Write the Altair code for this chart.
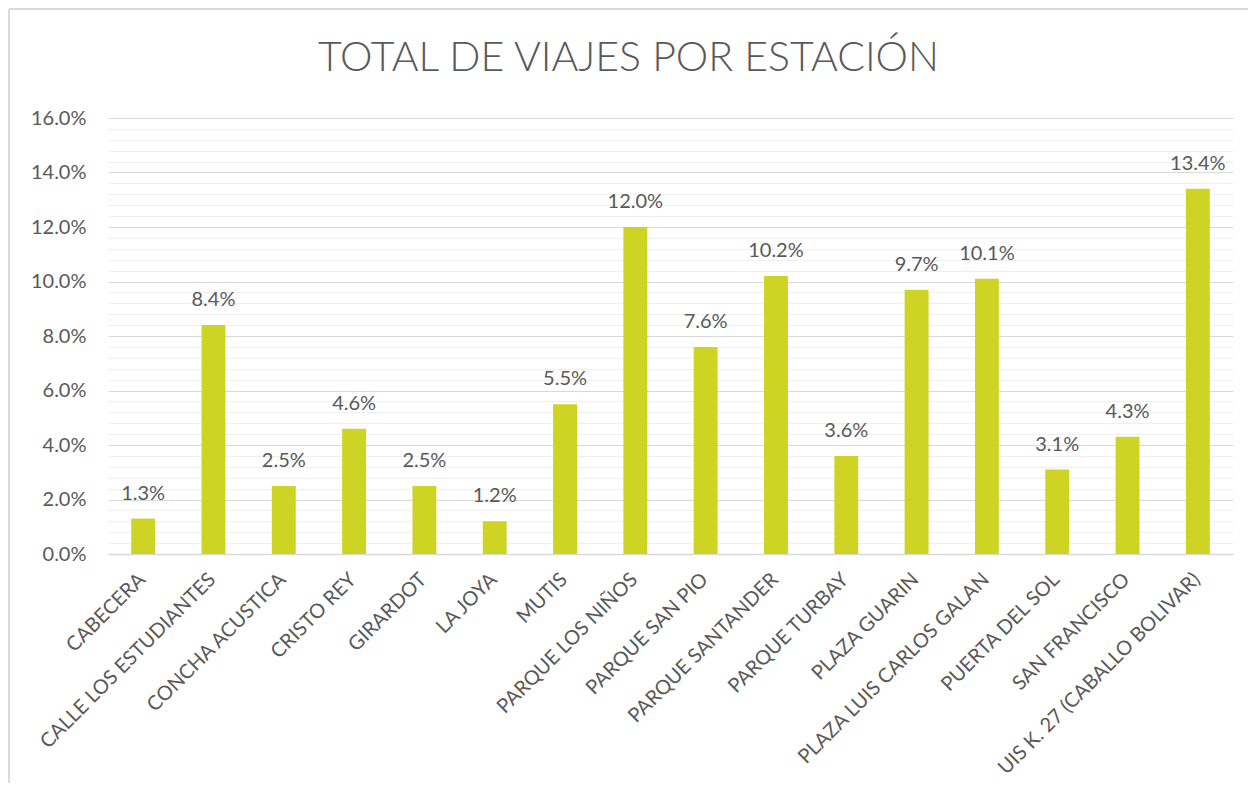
import altair as alt
import pandas as pd

estaciones = [
    "CABECERA", "CALLE LOS ESTUDIANTES", "CONCHA ACUSTICA", "CRISTO REY",
    "GIRARDOT", "LA JOYA", "MUTIS", "PARQUE LOS NIÑOS", "PARQUE SAN PIO",
    "PARQUE SANTANDER", "PARQUE TURBAY", "PLAZA GUARIN",
    "PLAZA LUIS CARLOS GALAN", "PUERTA DEL SOL", "SAN FRANCISCO",
    "UIS K. 27 (CABALLO BOLIVAR)",
]
porcentajes = [0.013, 0.084, 0.025, 0.046, 0.025, 0.012, 0.055, 0.120,
               0.076, 0.102, 0.036, 0.097, 0.101, 0.031, 0.043, 0.134]
# y-axis tick positions (major every 2%, minor gridlines every 0.4%)
ticks_y = [round(i * 0.004, 3) for i in range(41)]

df = pd.DataFrame({"estacion": estaciones, "pct": porcentajes})

TXT = "#595959"
FONT = "Lato"

x = alt.X(
    "estacion:N", sort=None,
    scale=alt.Scale(paddingInner=0.66, paddingOuter=0.33),
    axis=alt.Axis(title=None, labelAngle=-45, labelAlign="right",
                  labelBaseline="top", labelPadding=15, labelOffset=-8,
                  ticks=False,
                  domainColor="#d9d9d9", domainWidth=1.5, labelFont=FONT,
                  labelFontSize=20, labelColor=TXT, labelLimit=500,
                  labelOverlap=False),
)
major_test = "round(datum.value * 1000) % 20 === 0"
y = alt.Y(
    "pct:Q",
    scale=alt.Scale(domain=[0, 0.16], nice=False),
    axis=alt.Axis(
        title=None, values=ticks_y, ticks=False, domain=False,
        labelExpr=f"{major_test} ? format(datum.value, '.1%') : ''",
        labelOverlap=False, labelBound=False,
        labelPadding=22, labelFont=FONT, labelFontSize=20, labelColor=TXT,
        gridColor={"condition": {"test": major_test, "value": "#d9d9d9"},
                   "value": "#efefef"},
        gridWidth=1.2,
    ),
)

base = alt.Chart(df).encode(x=x, y=y)
bars = base.mark_bar(color="#CDD424")
labels = base.mark_text(baseline="bottom", dy=-15, font=FONT, fontSize=20,
                        color=TXT).encode(
    text=alt.Text("pct:Q", format=".1%"))

frame = alt.Data(values=[{}])
left_border = alt.Chart(frame).mark_rule(color="#d9d9d9", strokeWidth=2).encode(
    x=alt.value(-99), y=alt.value(-109), y2=alt.value(665))
top_border = alt.Chart(frame).mark_rule(color="#d9d9d9", strokeWidth=2).encode(
    x=alt.value(-99), x2=alt.value(1140), y=alt.value(-109))

chart = alt.layer(bars, labels, left_border, top_border).properties(
    width=1125, height=436,
    padding={"left": 0, "top": 0, "right": 0, "bottom": 0},
    title=alt.TitleParams(
        "TOTAL DE VIAJES POR ESTACIÓN", font=FONT,
        fontSize=41, fontWeight=300, color=TXT, anchor="middle",
        frame="bounds", offset=0, baseline="alphabetic", dy=104),
).configure_view(stroke=None)

chart.save("out.html", embed_options={"renderer": "svg", "actions": False})
